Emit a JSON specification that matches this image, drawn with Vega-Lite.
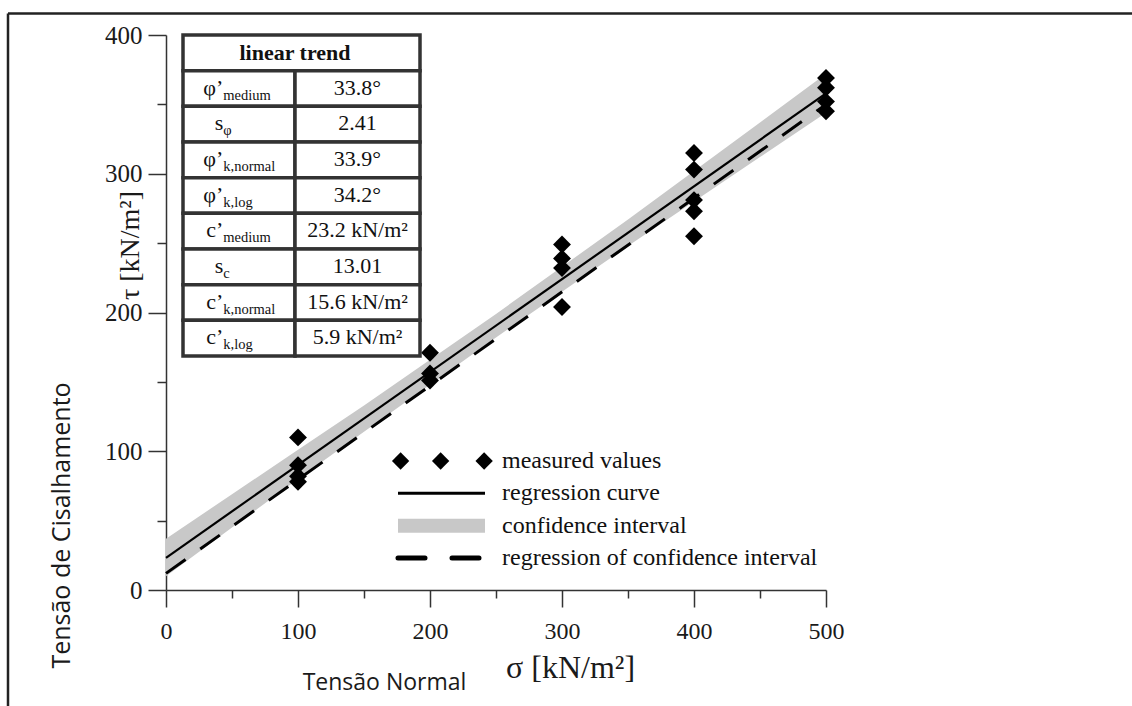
{
  "$schema": "https://vega.github.io/schema/vega-lite/v6.json",
  "width": 660,
  "height": 555,
  "autosize": {"type": "none"},
  "padding": {"left": 166, "top": 35, "right": 306, "bottom": 116},
  "background": "white",
  "config": {"view": {"stroke": null}, "font": "Liberation Serif"},
  "datasets": {
    "measured": [
      {"sigma": 100, "tau": 110}, {"sigma": 100, "tau": 90}, {"sigma": 100, "tau": 82}, {"sigma": 100, "tau": 78},
      {"sigma": 200, "tau": 171}, {"sigma": 200, "tau": 156}, {"sigma": 200, "tau": 151},
      {"sigma": 300, "tau": 249}, {"sigma": 300, "tau": 239}, {"sigma": 300, "tau": 232}, {"sigma": 300, "tau": 204},
      {"sigma": 400, "tau": 315}, {"sigma": 400, "tau": 303}, {"sigma": 400, "tau": 281}, {"sigma": 400, "tau": 273}, {"sigma": 400, "tau": 255},
      {"sigma": 500, "tau": 369}, {"sigma": 500, "tau": 362}, {"sigma": 500, "tau": 352}, {"sigma": 500, "tau": 345}
    ],
    "regression": [{"sigma": 0, "tau": 23.2}, {"sigma": 500, "tau": 357.9}],
    "confRegression": [{"sigma": 0, "tau": 12}, {"sigma": 500, "tau": 350}],
    "band": [
      {"sigma": 0, "lo": 10, "hi": 37},
      {"sigma": 50, "lo": 45, "hi": 69},
      {"sigma": 100, "lo": 80, "hi": 101},
      {"sigma": 150, "lo": 114, "hi": 133},
      {"sigma": 200, "lo": 148, "hi": 166},
      {"sigma": 250, "lo": 182, "hi": 199},
      {"sigma": 300, "lo": 215, "hi": 233},
      {"sigma": 350, "lo": 248, "hi": 267},
      {"sigma": 400, "lo": 280, "hi": 302},
      {"sigma": 450, "lo": 312, "hi": 337},
      {"sigma": 500, "lo": 344, "hi": 372}
    ],
    "table": [
      {"row": 0, "head": "linear trend", "sym": "", "sub": "", "value": ""},
      {"row": 1, "head": "", "sym": "φ’", "sub": "medium", "value": "33.8°"},
      {"row": 2, "head": "", "sym": "s", "sub": "φ", "value": "2.41"},
      {"row": 3, "head": "", "sym": "φ’", "sub": "k,normal", "value": "33.9°"},
      {"row": 4, "head": "", "sym": "φ’", "sub": "k,log", "value": "34.2°"},
      {"row": 5, "head": "", "sym": "c’", "sub": "medium", "value": "23.2 kN/m²"},
      {"row": 6, "head": "", "sym": "s", "sub": "c", "value": "13.01"},
      {"row": 7, "head": "", "sym": "c’", "sub": "k,normal", "value": "15.6 kN/m²"},
      {"row": 8, "head": "", "sym": "c’", "sub": "k,log", "value": "5.9 kN/m²"}
    ],
    "legend": [
      {"item": "measured values"},
      {"item": "regression curve"},
      {"item": "confidence interval"},
      {"item": "regression of confidence interval"}
    ]
  },
  "layer": [
    {
      "layer": [
        {
          "data": {"name": "band"},
          "mark": {"type": "area", "color": "#c8c8c8", "opacity": 1},
          "encoding": {
            "x": {
              "field": "sigma", "type": "quantitative",
              "scale": {"domain": [0, 500], "nice": false, "zero": false},
              "axis": {
                "values": [0, 50, 100, 150, 200, 250, 300, 350, 400, 450, 500],
                "labelExpr": "datum.value % 100 === 0 ? datum.label : ''",
                "tickSize": {"condition": {"test": "datum.value % 100 === 0", "value": 17}, "value": 8},
                "labelFlush": false, "labelOverlap": false,
                "labelFont": "Liberation Serif", "labelFontSize": 24, "labelColor": "#1a1a1a", "labelPadding": 12,
                "domainColor": "#333", "domainWidth": 1.5, "tickColor": "#333", "tickWidth": 1.5, "grid": false,
                "title": "σ [kN/m²]", "titleFont": "Liberation Serif", "titleFontSize": 32, "titleFontWeight": "normal",
                "titleColor": "#1a1a1a", "titleX": 404, "titleY": 77, "titleBaseline": "middle", "titleAlign": "center"
              }
            },
            "y": {
              "field": "lo", "type": "quantitative",
              "scale": {"domain": [0, 400], "nice": false, "zero": false},
              "axis": {
                "values": [0, 50, 100, 150, 200, 250, 300, 350, 400],
                "labelExpr": "datum.value % 100 === 0 ? datum.label : ''",
                "tickSize": {"condition": {"test": "datum.value % 100 === 0", "value": 18}, "value": 9},
                "labelFlush": false, "labelOverlap": false,
                "labelFont": "Liberation Serif", "labelFontSize": 25, "labelColor": "#1a1a1a", "labelPadding": 6,
                "domainColor": "#333", "domainWidth": 1.5, "tickColor": "#333", "tickWidth": 1.5, "grid": false,
                "title": "τ [kN/m²]", "titleFont": "Liberation Serif", "titleFontSize": 28, "titleFontWeight": "normal",
                "titleColor": "#1a1a1a", "titleX": -36, "titleY": 210, "titleAngle": 270, "titleBaseline": "middle", "titleAlign": "center"
              }
            },
            "y2": {"field": "hi"}
          }
        },
        {
          "data": {"name": "regression"},
          "mark": {"type": "line", "color": "#000", "strokeWidth": 2.2},
          "encoding": {
            "x": {"field": "sigma", "type": "quantitative"},
            "y": {"field": "tau", "type": "quantitative"}
          }
        },
        {
          "data": {"name": "confRegression"},
          "mark": {"type": "line", "color": "#000", "strokeWidth": 3, "strokeDash": [24, 18]},
          "encoding": {
            "x": {"field": "sigma", "type": "quantitative"},
            "y": {"field": "tau", "type": "quantitative"}
          }
        },
        {
          "data": {"name": "measured"},
          "mark": {"type": "point", "shape": "diamond", "filled": true, "size": 320, "color": "#000", "opacity": 1},
          "encoding": {
            "x": {"field": "sigma", "type": "quantitative"},
            "y": {"field": "tau", "type": "quantitative"}
          }
        }
      ]
    },
    {
      "data": {"name": "table"},
      "encoding": {
        "y": {
          "field": "row", "type": "ordinal",
          "scale": {"type": "band", "range": [0, 321], "paddingInner": 0, "paddingOuter": 0},
          "axis": {
            "orient": "left", "domain": false, "ticks": false, "labels": false, "grid": false,
            "title": "Tensão de  Cisalhamento", "titleFont": "Open Sans", "titleFontSize": 25, "titleFontWeight": "normal",
            "titleColor": "#1a1a1a", "titleX": -105, "titleY": 490, "titleAngle": 270, "titleBaseline": "middle", "titleAlign": "center"
          }
        }
      },
      "layer": [
        {
          "transform": [{"filter": "datum.row === 0"}],
          "mark": {"type": "rect", "fill": "white", "stroke": "#333", "strokeWidth": 3.5},
          "encoding": {
            "x": {
              "datum": 0, "type": "quantitative",
              "scale": {"domain": [0, 1, 2], "range": [17, 129, 254]},
              "axis": {
                "orient": "bottom", "domain": false, "ticks": false, "labels": false, "grid": false,
                "title": "Tensão Normal", "titleFont": "Open Sans", "titleFontSize": 23, "titleFontWeight": "normal",
                "titleColor": "#1a1a1a", "titleX": 218, "titleY": 92, "titleBaseline": "middle", "titleAlign": "center"
              }
            },
            "x2": {"datum": 2}
          }
        },
        {
          "transform": [{"filter": "datum.row > 0"}],
          "mark": {"type": "rect", "fill": "white", "stroke": "#333", "strokeWidth": 3.5},
          "encoding": {"x": {"datum": 0, "type": "quantitative"}, "x2": {"datum": 1}}
        },
        {
          "transform": [{"filter": "datum.row > 0"}],
          "mark": {"type": "rect", "fill": "white", "stroke": "#333", "strokeWidth": 3.5},
          "encoding": {"x": {"datum": 1, "type": "quantitative"}, "x2": {"datum": 2}}
        },
        {
          "transform": [{"filter": "datum.row === 0"}],
          "mark": {"type": "text", "font": "Liberation Serif", "fontSize": 22, "fontWeight": "bold", "color": "#111", "align": "center", "baseline": "alphabetic", "dy": 7},
          "encoding": {"x": {"datum": 1, "type": "quantitative"}, "text": {"field": "head"}}
        },
        {
          "transform": [{"filter": "datum.row > 0"}],
          "mark": {"type": "text", "font": "Liberation Serif", "fontSize": 22, "color": "#111", "align": "right", "baseline": "alphabetic", "dy": 6},
          "encoding": {"x": {"datum": 0.36, "type": "quantitative"}, "text": {"field": "sym"}}
        },
        {
          "transform": [{"filter": "datum.row > 0"}],
          "mark": {"type": "text", "font": "Liberation Serif", "fontSize": 14.5, "color": "#111", "align": "left", "baseline": "alphabetic", "dy": 11},
          "encoding": {"x": {"datum": 0.36, "type": "quantitative"}, "text": {"field": "sub"}}
        },
        {
          "transform": [{"filter": "datum.row > 0"}],
          "mark": {"type": "text", "font": "Liberation Serif", "fontSize": 22, "color": "#111", "align": "center", "baseline": "alphabetic", "dy": 6},
          "encoding": {"x": {"datum": 1.5, "type": "quantitative"}, "text": {"field": "value"}}
        }
      ]
    },
    {
      "data": {"name": "legend"},
      "encoding": {
        "y": {
          "field": "item", "type": "ordinal",
          "scale": {"type": "point", "domain": ["measured values", "regression curve", "confidence interval", "regression of confidence interval"], "range": [426, 523], "padding": 0},
          "axis": null
        }
      },
      "layer": [
        {
          "mark": {"type": "text", "font": "Liberation Serif", "fontSize": 24, "color": "#111", "align": "left", "baseline": "middle", "dx": 17},
          "encoding": {
            "x": {"datum": 1, "type": "quantitative", "scale": {"domain": [0, 1], "range": [232, 319]}, "axis": null},
            "text": {"field": "item"}
          }
        },
        {
          "transform": [{"filter": "datum.item === 'measured values'"}],
          "mark": {"type": "point", "shape": "diamond", "filled": true, "size": 300, "color": "#000", "opacity": 1},
          "encoding": {"x": {"datum": 0.03, "type": "quantitative"}}
        },
        {
          "transform": [{"filter": "datum.item === 'measured values'"}],
          "mark": {"type": "point", "shape": "diamond", "filled": true, "size": 300, "color": "#000", "opacity": 1},
          "encoding": {"x": {"datum": 0.49, "type": "quantitative"}}
        },
        {
          "transform": [{"filter": "datum.item === 'measured values'"}],
          "mark": {"type": "point", "shape": "diamond", "filled": true, "size": 300, "color": "#000", "opacity": 1},
          "encoding": {"x": {"datum": 0.99, "type": "quantitative"}}
        },
        {
          "transform": [{"filter": "datum.item === 'regression curve'"}],
          "mark": {"type": "rule", "color": "#000", "strokeWidth": 3},
          "encoding": {"x": {"datum": 0, "type": "quantitative"}, "x2": {"datum": 1}}
        },
        {
          "transform": [{"filter": "datum.item === 'confidence interval'"}],
          "mark": {"type": "rule", "color": "#c8c8c8", "strokeWidth": 14, "strokeCap": "butt"},
          "encoding": {"x": {"datum": 0, "type": "quantitative"}, "x2": {"datum": 1}}
        },
        {
          "transform": [{"filter": "datum.item === 'regression of confidence interval'"}],
          "mark": {"type": "rule", "color": "#000", "strokeWidth": 5, "strokeDash": [27, 27], "strokeCap": "round"},
          "encoding": {"x": {"datum": 0, "type": "quantitative"}, "x2": {"datum": 1}}
        }
      ]
    },
    {
      "data": {"values": [{}]},
      "layer": [
        {
          "mark": {"type": "rule", "color": "#222", "strokeWidth": 2.5},
          "encoding": {
            "x": {"datum": 0, "type": "quantitative", "scale": {"domain": [0, 1], "range": [-158, 966]}, "axis": null},
            "x2": {"datum": 1},
            "y": {"datum": 0, "type": "quantitative", "scale": {"domain": [0, 1], "range": [-21.5, 671]}, "axis": null}
          }
        },
        {
          "mark": {"type": "rule", "color": "#222", "strokeWidth": 2.5},
          "encoding": {
            "x": {"datum": 0, "type": "quantitative"},
            "y": {"datum": 0, "type": "quantitative"},
            "y2": {"datum": 1}
          }
        }
      ]
    }
  ],
  "resolve": {"scale": {"x": "independent", "y": "independent"}}
}
